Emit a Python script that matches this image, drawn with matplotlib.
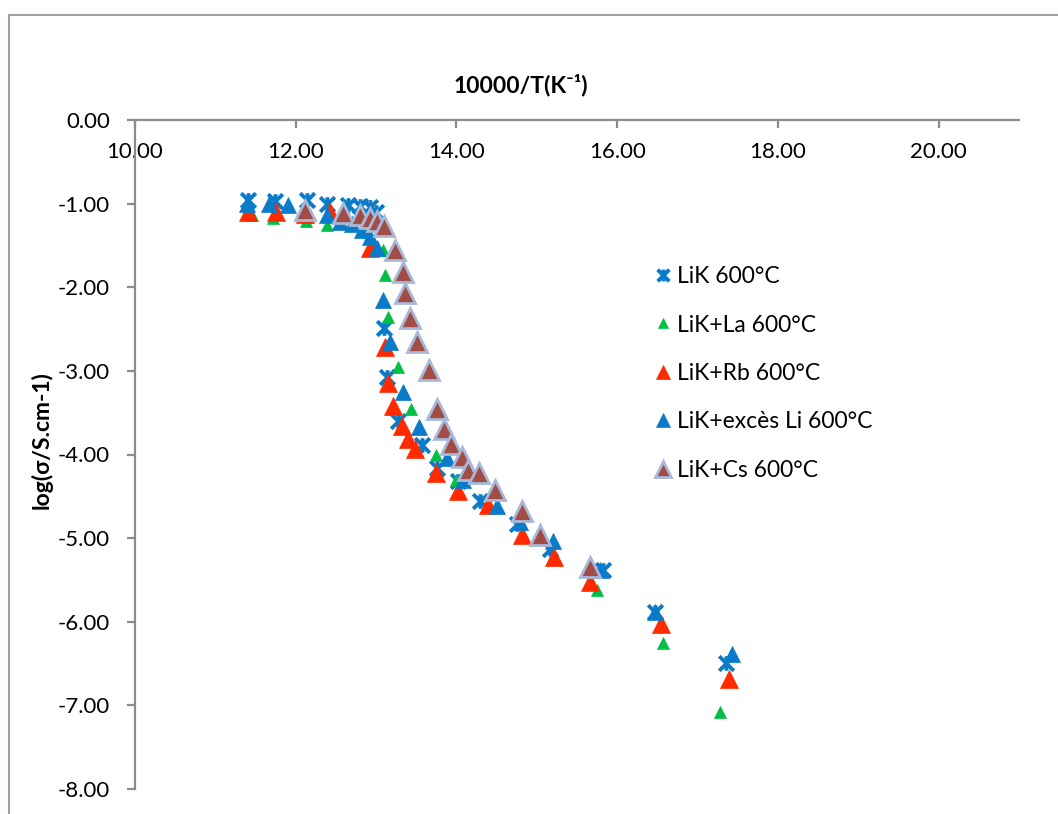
import matplotlib
matplotlib.use('Agg')
import matplotlib.pyplot as plt
from matplotlib.path import Path
from matplotlib.patches import Rectangle
from matplotlib.ticker import FuncFormatter

plt.rcParams['font.family'] = ['Lato', 'DejaVu Sans']

# data (x = 10000/T, y = log sigma)
lik_x = [11.41, 11.74, 12.14, 12.39, 12.65, 12.80, 12.92, 13.00, 13.10, 13.13,
         13.27, 13.57, 13.76, 14.02, 14.29, 14.75, 15.16, 15.82, 16.47, 17.36]
lik_y = [-0.96, -0.97, -0.96, -1.00, -1.02, -1.03, -1.04, -1.10, -2.49, -3.07,
         -3.60, -3.89, -4.16, -4.32, -4.56, -4.83, -5.13, -5.38, -5.88, -6.49]

la_x = [11.46, 11.72, 12.13, 12.39, 12.90, 13.08, 13.11, 13.15, 13.27, 13.43,
        13.74, 14.00, 15.19, 15.75, 16.57, 17.28]
la_y = [-1.14, -1.17, -1.21, -1.25, -1.34, -1.55, -1.85, -2.35, -2.95, -3.46,
        -4.00, -4.31, -5.25, -5.62, -6.26, -7.08]

rb_x = [11.41, 11.75, 12.11, 12.43, 12.92, 13.11, 13.15, 13.21, 13.32, 13.40,
        13.48, 13.74, 14.02, 14.39, 14.81, 15.22, 15.66, 16.55, 17.39]
rb_y = [-1.10, -1.10, -1.12, -1.10, -1.53, -2.71, -3.14, -3.42, -3.66, -3.82,
        -3.94, -4.22, -4.44, -4.60, -4.96, -5.22, -5.52, -6.03, -6.69]

li_x = [11.39, 11.67, 11.90, 12.39, 12.55, 12.70, 12.82, 12.92, 13.01, 13.08,
        13.17, 13.33, 13.54, 13.88, 14.08, 14.51, 14.79, 15.20, 15.78, 16.47, 17.43]
li_y = [-1.00, -1.00, -1.02, -1.14, -1.22, -1.24, -1.31, -1.40, -1.53, -2.15,
        -2.65, -3.25, -3.67, -4.04, -4.30, -4.62, -4.81, -5.04, -5.38, -5.88, -6.39]

cs_x = [12.11, 12.59, 12.80, 12.92, 13.01, 13.10, 13.23, 13.33, 13.36, 13.42,
        13.51, 13.66, 13.76, 13.84, 13.93, 14.07, 14.14, 14.28, 14.48, 14.81,
        15.04, 15.66]
cs_y = [-1.08, -1.11, -1.14, -1.17, -1.21, -1.27, -1.55, -1.82, -2.07, -2.37,
        -2.66, -2.99, -3.46, -3.69, -3.88, -4.03, -4.18, -4.22, -4.42, -4.68,
        -4.96, -5.34]

x_ticks = [10, 12, 14, 16, 18, 20]
y_ticks = [0, -1, -2, -3, -4, -5, -6, -7, -8]

star = Path([(-1, -1), (1, 1), (-1, 1), (1, -1), (0, -1), (0, 1)],
            [Path.MOVETO, Path.LINETO, Path.MOVETO, Path.LINETO, Path.MOVETO, Path.LINETO])

W, H = 1058, 814
fig = plt.figure(figsize=(W / 100, H / 100), dpi=100)
fig.patches.append(Rectangle((9 / W, -0.1), 1.2, 1.1 - 15 / H, transform=fig.transFigure,
                             fill=False, edgecolor='#a0a0a0', linewidth=1.5))

ax = fig.add_axes([135 / W, 1 - 789 / H, (1019 - 135) / W, (789 - 120) / H])

blue = '#0a7bc8'
ax.plot(lik_x, lik_y, linestyle='none', marker=star, markersize=10.5, markeredgewidth=2.8,
        color=blue, label='LiK 600°C')
ax.plot(la_x, la_y, linestyle='none', marker='^', markersize=9, color='#00bf45',
        markeredgewidth=0.5, label='LiK+La 600°C')
ax.plot(rb_x, rb_y, linestyle='none', marker='^', markersize=13, color='#ff2a00',
        markeredgewidth=0.5, label='LiK+Rb 600°C')
ax.plot(li_x, li_y, linestyle='none', marker='^', markersize=12, color=blue,
        markeredgewidth=0.5, label='LiK+excès Li 600°C')
ax.plot(cs_x, cs_y, linestyle='none', marker='^', markersize=14, markerfacecolor='#a24c46',
        markeredgecolor='#a8b8d8', markeredgewidth=2, label='LiK+Cs 600°C')

ax.set_xlim(10, 21)
ax.set_ylim(-8, 0)
ax.set_xticks(x_ticks)
ax.set_yticks(y_ticks)
fmt = FuncFormatter(lambda v, p: f'{v:.2f}')
ax.xaxis.set_major_formatter(fmt)
ax.yaxis.set_major_formatter(fmt)

for s in ['top', 'right']:
    ax.spines[s].set_visible(False)
ax.spines['bottom'].set_position(('data', 0))
for s in ['bottom', 'left']:
    ax.spines[s].set_color('#8c8c8c')
    ax.spines[s].set_linewidth(1.6)
ax.tick_params(axis='both', direction='out', length=6, width=1.6, color='#8c8c8c',
               labelsize=16, labelcolor='black')
ax.tick_params(axis='x', pad=10)
ax.tick_params(axis='y', pad=12)

fig.text(521 / W, 1 - 85 / H, '10000/T(K⁻¹)', ha='center', va='center',
         fontsize=16.5, fontweight='bold')
fig.text(42 / W, 1 - 440 / H, 'log(σ/S.cm-1)', ha='center', va='center',
         rotation=90, fontsize=16.5, fontweight='bold')

ax.legend(loc='upper left', bbox_to_anchor=(656 / W, 1 - 266 / H),
          bbox_transform=fig.transFigure, frameon=False, fontsize=16.5,
          handlelength=0.6, handletextpad=0.3, labelspacing=1.2,
          borderpad=0, borderaxespad=0, markerscale=0.8)

fig.savefig('out.png', dpi=100)
